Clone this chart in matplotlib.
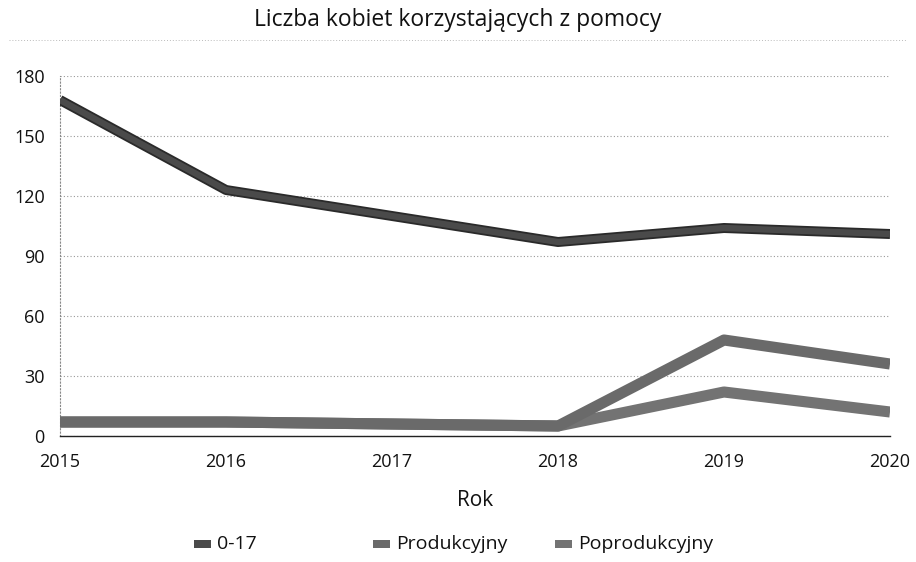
import matplotlib
matplotlib.use("Agg")
import matplotlib.pyplot as plt
from matplotlib.patches import Rectangle

years = [2015, 2016, 2017, 2018, 2019, 2020]
s_017 = [168, 123, 110, 97, 104, 101]
s_prod = [7, 7, 6, 5, 48, 36]
s_poprod = [7, 7, 6, 5, 22, 12]
labels = ["0-17", "Produkcyjny", "Poprodukcyjny"]
yticks = [0, 30, 60, 90, 120, 150, 180]

plt.rcParams['font.family'] = ['Open Sans', 'DejaVu Sans']

W, H = 916, 562
fig = plt.figure(figsize=(W/100, H/100), dpi=100)
ax = fig.add_axes([60/W, 1-436/H, 830/W, 360/H])

c_017 = "#4a4a4a"
c_prod = "#6a6a6a"
c_poprod = "#737373"

ax.plot(years, s_poprod, color=c_poprod, lw=8, solid_capstyle='butt', zorder=3)
ax.plot(years, s_prod, color=c_prod, lw=8, solid_capstyle='butt', zorder=3)
ax.plot(years, s_017, color="#2a2a2a", lw=7.2, solid_capstyle='butt', zorder=4)
ax.plot(years, s_017, color=c_017, lw=4.6, solid_capstyle='butt', zorder=5)

ax.set_xlim(2015, 2020)
ax.set_ylim(0, 180)
ax.set_yticks(yticks)
ax.set_xticks(years)
ax.grid(axis='y', color="#999999", linestyle=(0, (1, 2)), lw=0.8)
for s in ['top', 'right']:
    ax.spines[s].set_visible(False)
ax.spines['left'].set_linestyle((0, (1, 2)))
ax.spines['left'].set_color("#888888")
ax.spines['bottom'].set_color("#222222")
ax.spines['bottom'].set_linewidth(1.0)
ax.tick_params(length=0, labelsize=13, colors="#111111")
ax.tick_params(axis='x', pad=12)
ax.tick_params(axis='y', pad=11)
ax.set_xlabel("Rok", fontsize=15, labelpad=14, color="#111111")

fig.text(0.5, 1-20/H, "Liczba kobiet korzystających z pomocy", ha='center', va='center',
         fontsize=16.5, color="#111111")
fig.add_artist(plt.Line2D([0.01, 0.99], [1-40/H, 1-40/H], color="#bbbbbb",
                          lw=0.7, linestyle=(0, (1, 2))))

# legend (manual, evenly spaced columns)
colors = [c_017, c_prod, c_poprod]
x0s = [194, 373, 555]
yc = 544
for x0, c, lab in zip(x0s, colors, labels):
    fig.add_artist(Rectangle((x0/W, (H-yc-4)/H), 17/W, 8/H, facecolor=c,
                             edgecolor='none', lw=0, transform=fig.transFigure))
    fig.text((x0+23)/W, 1-yc/H, lab, ha='left', va='center', fontsize=14,
             color="#111111")

fig.savefig("out.png", dpi=100)
